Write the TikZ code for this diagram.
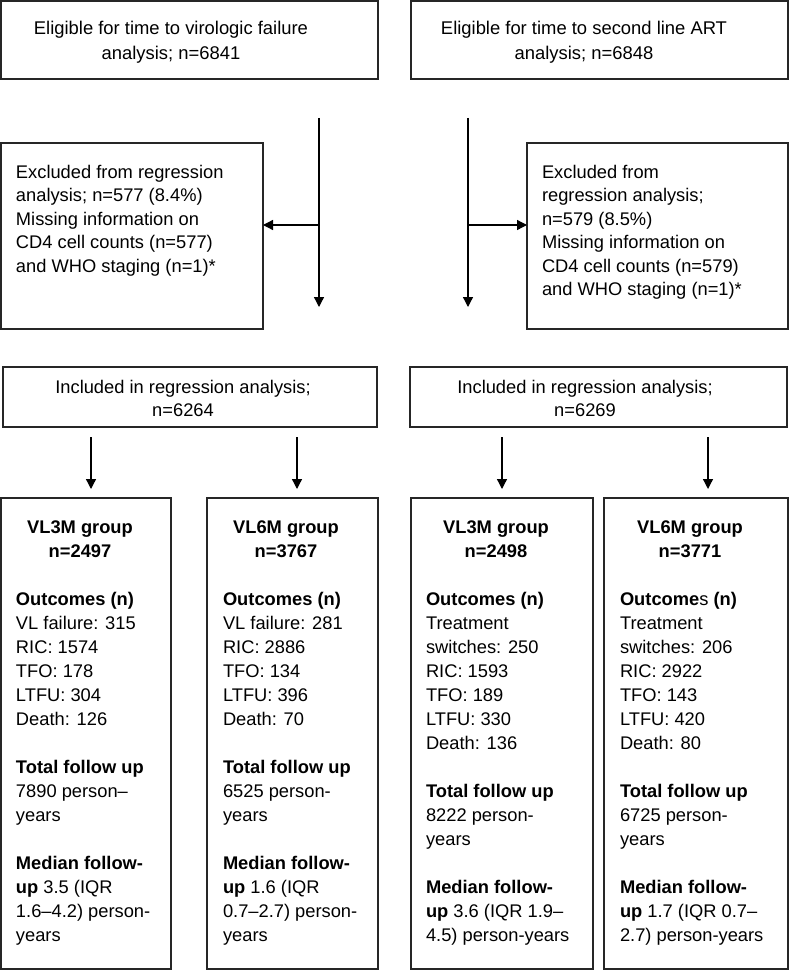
\documentclass[tikz,border=0pt]{standalone}
\usepackage{fontspec}
\setmainfont{Liberation Sans}
\usetikzlibrary{arrows.meta}
\begin{document}
\begin{tikzpicture}[x=1pt,y=-1pt,
  box/.style={draw=black!85, line width=1.1pt, inner sep=0pt, outer sep=0pt, anchor=north west},
  txt/.style={inner sep=0pt, outer sep=0pt, align=left, anchor=north west},
  ctxt/.style={inner sep=0pt, outer sep=0pt, align=center, anchor=north},
  fa/.style={font=\fontsize{18.4}{25}\selectfont},
  fb/.style={font=\fontsize{18.3}{23.5}\selectfont},
  fc/.style={font=\fontsize{18.3}{23}\selectfont},
  fd/.style={font=\fontsize{18.3}{24}\selectfont},
  fh/.style={font=\fontsize{18.3}{24}\selectfont\bfseries},
  arr/.style={line width=1.3pt, -{Triangle[length=10pt,width=10pt]}},
  ln/.style={line width=1.3pt}]
\useasboundingbox (0,0) rectangle (789,971);

% top boxes
\node[box, minimum width=377pt, minimum height=78pt] (top1) at (1,1) {};
\node[box, minimum width=377pt, minimum height=78pt] (top2) at (411,1) {};
\node[ctxt, fa] (top1t) at (171,17.5) {\strut Eligible for time to virologic failure\\analysis; n=6841};
\node[ctxt, fa] (top2t) at (584,17.5) {\strut Eligible for time to second line ART\\analysis; n=6848};

% excluded boxes
\node[box, minimum width=262pt, minimum height=186pt] (exL) at (1,143) {};
\node[box, minimum width=261pt, minimum height=186pt] (exR) at (527,143) {};
\node[txt, fb] (exLt) at (16,161.55) {\strut Excluded from regression\\analysis; n=577 (8.4\%)\\Missing information on\\CD4 cell counts (n=577)\\and WHO staging (n=1)*};
\node[txt, fb] (exRt) at (542,161.55) {\strut Excluded from\\regression analysis;\\n=579 (8.5\%)\\Missing information on\\CD4 cell counts (n=579)\\and WHO staging (n=1)*};

% vertical flow lines
\coordinate (vL1) at (319,118);
\coordinate (vL2) at (319,307);
\coordinate (hL) at (319,225);
\coordinate (vR1) at (468,118);
\coordinate (vR2) at (468,307);
\coordinate (hR) at (468,225);
\draw[arr] (vL1) -- (vL2);
\draw[arr] (hL) -- (hL -| exL.east);
\draw[arr] (vR1) -- (vR2);
\draw[arr] (hR) -- (hR -| exR.west);

% included boxes
\node[box, minimum width=374pt, minimum height=60pt] (inL) at (3,367) {};
\node[box, minimum width=377pt, minimum height=60pt] (inR) at (410,367) {};
\node[ctxt, fc] (inLt) at (183,376.9) {\strut Included in regression analysis;\\n=6264};
\node[ctxt, fc] (inRt) at (585,376.9) {\strut Included in regression analysis;\\n=6269};

% arrows to groups
\coordinate (a1s) at (91,437);  \coordinate (a1e) at (91,489);
\coordinate (a2s) at (297,437); \coordinate (a2e) at (297,489);
\coordinate (a3s) at (502,437); \coordinate (a3e) at (502,489);
\coordinate (a4s) at (708,437); \coordinate (a4e) at (708,489);
\draw[arr] (a1s) -- (a1e);
\draw[arr] (a2s) -- (a2e);
\draw[arr] (a3s) -- (a3e);
\draw[arr] (a4s) -- (a4e);

% group boxes
\node[box, minimum width=170pt, minimum height=471pt] (g1) at (1,498) {};
\node[box, minimum width=171pt, minimum height=471pt] (g2) at (207,498) {};
\node[box, minimum width=182pt, minimum height=471pt] (g3) at (411,498) {};
\node[box, minimum width=184pt, minimum height=471pt] (g4) at (604,498) {};

\node[ctxt, fh] (g1h) at (80,516.2) {\strut VL3M group\\n=2497};
\node[ctxt, fh] (g2h) at (286,516.2) {\strut VL6M group\\n=3767};
\node[ctxt, fh] (g3h) at (496,516.2) {\strut VL3M group\\n=2498};
\node[ctxt, fh] (g4h) at (690,516.2) {\strut VL6M group\\n=3771};

\node[txt, fd] (g1t) at (16,588.2) {\strut\textbf{Outcomes (n)}\\VL failure: 315\\RIC: 1574\\TFO: 178\\LTFU: 304\\Death: 126\\[24pt]\textbf{Total follow up}\\7890 person–\\years\\[24pt]\textbf{Median follow-}\\\textbf{up} 3.5 (IQR\\1.6–4.2) person-\\years};
\node[txt, fd] (g2t) at (223,588.2) {\strut\textbf{Outcomes (n)}\\VL failure: 281\\RIC: 2886\\TFO: 134\\LTFU: 396\\Death: 70\\[24pt]\textbf{Total follow up}\\6525 person-\\years\\[24pt]\textbf{Median follow-}\\\textbf{up} 1.6 (IQR\\0.7–2.7) person-\\years};
\node[txt, fd] (g3t) at (426,588.2) {\strut\textbf{Outcomes (n)}\\Treatment\\switches: 250\\RIC: 1593\\TFO: 189\\LTFU: 330\\Death: 136\\[24pt]\textbf{Total follow up}\\8222 person-\\years\\[24pt]\textbf{Median follow-}\\\textbf{up} 3.6 (IQR 1.9–\\4.5) person-years};
\node[txt, fd] (g4t) at (620,588.2) {\strut\textbf{Outcome}s \textbf{(n)}\\Treatment\\switches: 206\\RIC: 2922\\TFO: 143\\LTFU: 420\\Death: 80\\[24pt]\textbf{Total follow up}\\6725 person-\\years\\[24pt]\textbf{Median follow-}\\\textbf{up} 1.7 (IQR 0.7–\\2.7) person-years};
\end{tikzpicture}
\end{document}
